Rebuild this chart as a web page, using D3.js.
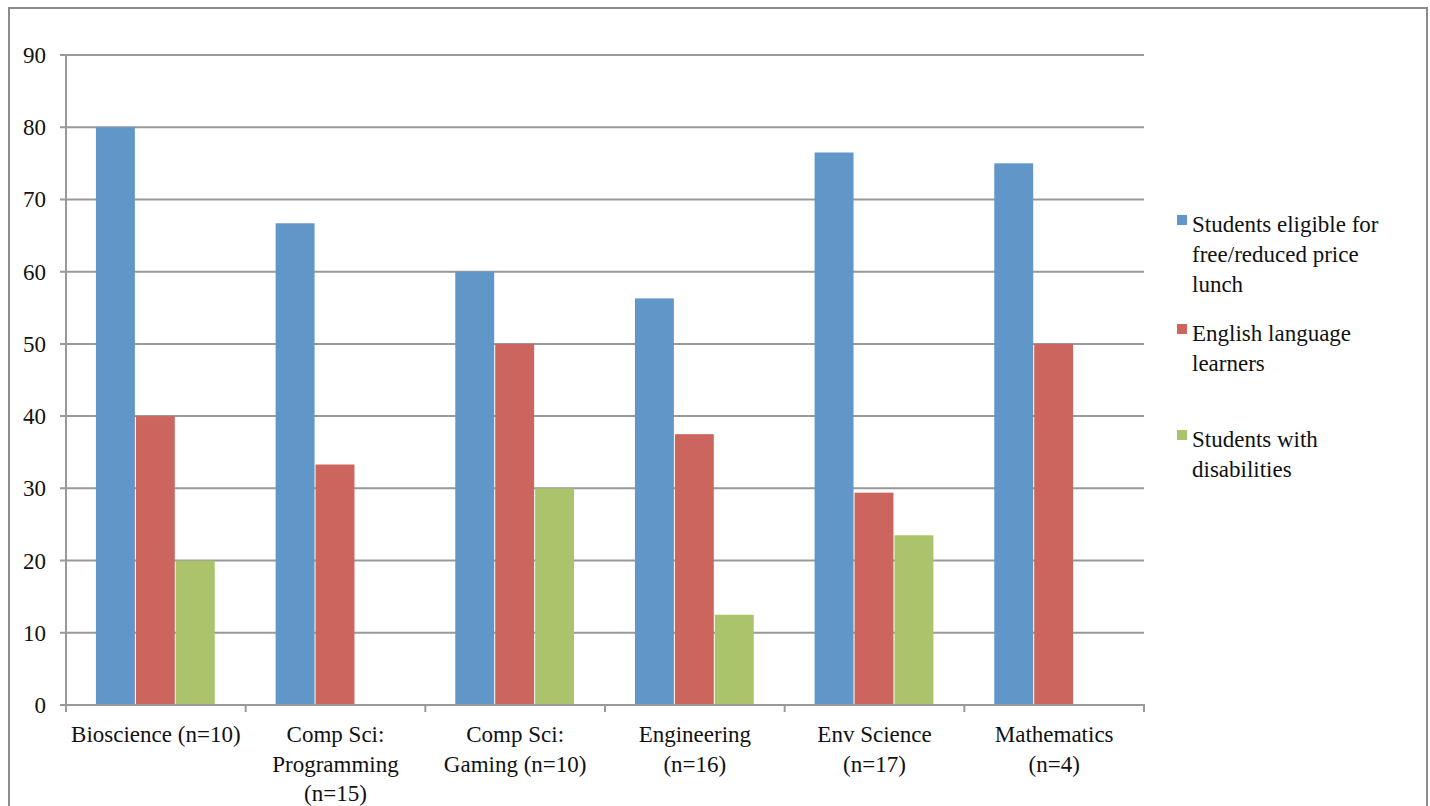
<!DOCTYPE html>
<html>
<head>
<meta charset="utf-8">
<script src="https://cdn.jsdelivr.net/npm/d3@7"></script>
<style>
  body { margin: 0; background: #fff; }
  svg { display: block; }
</style>
</head>
<body>
<div id="vis"></div>
<script>
'use strict';

var categories = [
    ['Bioscience (n=10)'],
    ['Comp Sci:', 'Programming', '(n=15)'],
    ['Comp Sci:', 'Gaming (n=10)'],
    ['Engineering', '(n=16)'],
    ['Env Science', '(n=17)'],
    ['Mathematics', '(n=4)']
];
var seriesNames = [
    ['Students eligible for', 'free/reduced price', 'lunch'],
    ['English language', 'learners'],
    ['Students with', 'disabilities']
];
var lunchValues = [80, 66.7, 60, 56.3, 76.5, 75];
var ellValues = [40, 33.3, 50, 37.5, 29.4, 50];
var disabilityValues = [20, 0, 30, 12.5, 23.5, 0];
var yTicks = [0, 10, 20, 30, 40, 50, 60, 70, 80, 90];
var colors = ['#6096c8', '#cd655f', '#abc46c'];

var fontStack = '"Liberation Serif", "Times New Roman", Times, "DejaVu Serif", serif';
var fontSize = 23;

var width = 1430, height = 806;
var svg = d3.select('#vis').append('svg')
    .attr('width', width)
    .attr('height', height)
    .attr('font-family', fontStack)
    .style('font-family', fontStack);

// outer frame (bottom edge runs off the picture)
svg.append('rect')
    .attr('x', 9).attr('y', 8)
    .attr('width', 1418).attr('height', 820)
    .attr('fill', 'none')
    .attr('stroke', '#8c8c8c')
    .attr('stroke-width', 2);

var plotLeft = 66, plotRight = 1144, plotTop = 55, plotBottom = 705;

var x = d3.scaleBand()
    .domain(d3.range(categories.length))
    .range([plotLeft, plotRight])
    .paddingInner(1 / 3)
    .paddingOuter(1 / 6);

var series = [lunchValues, ellValues, disabilityValues];
var xs = d3.scaleBand()
    .domain(d3.range(series.length))
    .range([0, x.bandwidth()]);

var y = d3.scaleLinear()
    .domain([0, 90])
    .range([plotBottom, plotTop]);

var grey = '#999';

// gridlines
svg.append('g')
    .selectAll('line')
    .data(yTicks.slice(1))
    .enter().append('line')
    .attr('x1', plotLeft - 6).attr('x2', plotRight)
    .attr('y1', function (d) { return y(d); })
    .attr('y2', function (d) { return y(d); })
    .attr('stroke', grey)
    .attr('stroke-width', 2);

// bars
var groups = svg.append('g')
    .selectAll('g')
    .data(series)
    .enter().append('g')
    .attr('fill', function (d, i) { return colors[i]; });

groups.each(function (vals, si) {
    d3.select(this).selectAll('rect')
        .data(vals)
        .enter().append('rect')
        .attr('x', function (d, i) { return x(i) + xs(si); })
        .attr('width', xs.bandwidth() - 1)
        .attr('y', function (d) { return y(d); })
        .attr('height', function (d) { return y(0) - y(d); });
});

// axes lines
svg.append('line')
    .attr('x1', plotLeft).attr('x2', plotLeft)
    .attr('y1', plotTop - 1).attr('y2', plotBottom + 1)
    .attr('stroke', grey).attr('stroke-width', 2);
svg.append('line')
    .attr('x1', plotLeft - 6).attr('x2', plotRight + 1)
    .attr('y1', plotBottom).attr('y2', plotBottom)
    .attr('stroke', grey).attr('stroke-width', 2);

svg.append('g')
    .selectAll('text')
    .data(yTicks)
    .enter().append('text')
    .attr('x', 46)
    .attr('y', function (d) { return y(d) + 8; })
    .attr('text-anchor', 'end')
    .attr('font-size', fontSize)
    .attr('fill', '#111')
    .text(function (d) { return d; });

// x axis ticks at category boundaries
var step = x.step();
svg.append('g')
    .selectAll('line')
    .data(d3.range(categories.length + 1))
    .enter().append('line')
    .attr('x1', function (d) { return plotLeft + d * step; })
    .attr('x2', function (d) { return plotLeft + d * step; })
    .attr('y1', plotBottom)
    .attr('y2', plotBottom + 7)
    .attr('stroke', grey).attr('stroke-width', 2);

// category labels
var catLabels = svg.append('g')
    .selectAll('text')
    .data(categories)
    .enter().append('text')
    .attr('text-anchor', 'middle')
    .attr('font-size', fontSize)
    .attr('fill', '#111')
    .attr('x', function (d, i) { return x(i) + x.bandwidth() / 2; })
    .attr('y', 742);
catLabels.selectAll('tspan')
    .data(function (d) { return d; })
    .enter().append('tspan')
    .attr('x', function () { return d3.select(this.parentNode).attr('x'); })
    .attr('dy', function (d, i) { return i === 0 ? 0 : 29.5; })
    .text(function (d) { return d; });

// legend
var legendY = [232, 341, 447];
var legend = svg.append('g')
    .selectAll('g')
    .data(seriesNames)
    .enter().append('g');
legend.append('rect')
    .attr('x', 1177)
    .attr('y', function (d, i) { return legendY[i] - 17; })
    .attr('width', 10).attr('height', 10)
    .attr('fill', function (d, i) { return colors[i]; });
legend.append('text')
    .attr('font-size', fontSize)
    .attr('fill', '#111')
    .attr('y', function (d, i) { return legendY[i]; })
    .selectAll('tspan')
    .data(function (d) { return d; })
    .enter().append('tspan')
    .attr('x', 1192)
    .attr('dy', function (d, i) { return i === 0 ? 0 : 30; })
    .text(function (d) { return d; });
</script>
</body>
</html>
